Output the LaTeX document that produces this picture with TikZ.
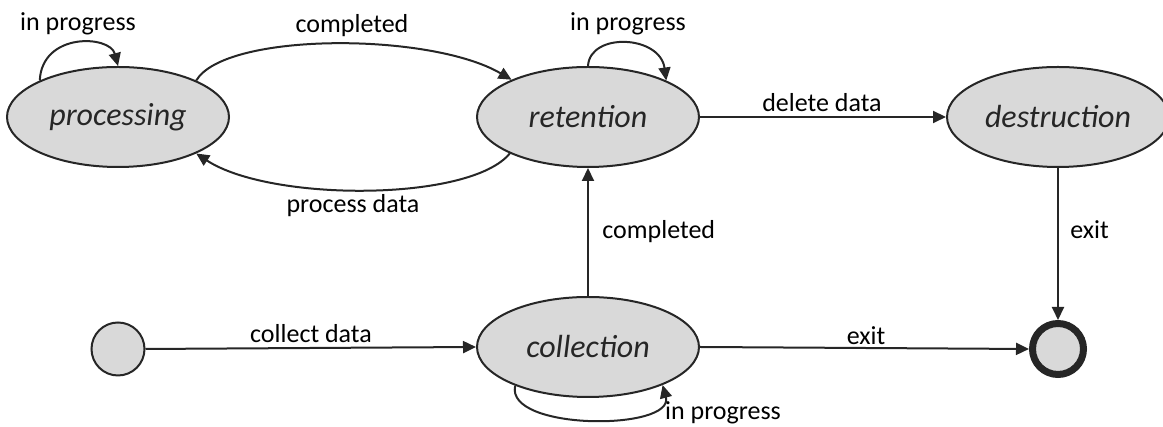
\documentclass[tikz,border=0pt]{standalone}
\usepackage{fontspec}
\setmainfont{Carlito}
\usetikzlibrary{arrows.meta,shapes.geometric}
\definecolor{ink}{HTML}{262626}
\definecolor{statefill}{HTML}{D9D9D9}
\tikzset{
  state/.style={ellipse,draw=ink,fill=statefill,line width=1pt,minimum width=111pt,minimum height=50pt,inner sep=0pt,text=ink,font=\fontsize{16}{19}\selectfont\itshape},
  startstate/.style={circle,draw=ink,fill=statefill,line width=1pt,minimum size=26.5pt,inner sep=0pt},
  endstate/.style={circle,draw=ink,fill=statefill,line width=3.5pt,minimum size=25.5pt,inner sep=0pt},
  conn/.style={draw=ink,line width=1pt,-{Triangle[length=6.5pt,width=6pt]}},
  lbl/.style={font=\fontsize{13}{15}\selectfont,text=black,inner sep=0pt}
}
\begin{document}
\begin{tikzpicture}[x=0.5pt,y=0.5pt]
\useasboundingbox (0,0) rectangle (1163,427);
% states
\node[state] (proc) at (118,310) {processing};
\node[state] (ret) at (588,310) {retention};
\node[state] (dest) at (1058,310) {destruction};
\node[state] (coll) at (588,80) {collection};
\node[startstate] (init) at (118,78) {};
\node[endstate] (final) at (1058,78) {};
% connectors
\draw[conn] (proc.155) .. controls (42,395) and (110,392) .. (proc.north);
\draw[conn] (ret.north) .. controls (590,395) and (660,392) .. (ret.25);
\draw[conn] (coll.208) .. controls (505,-4) and (675,-4) .. (coll.333);
\draw[conn] (proc.25) .. controls (225,395) and (430,395) .. (ret.154);
\draw[conn] (ret.205) .. controls (470,225) and (270,225) .. (proc.335);
\draw[conn] (ret.east) -- (dest.west);
\draw[conn] (coll.north) -- (ret.south);
\draw[conn] (init.east) -- (coll.west);
\draw[conn] (coll.east) -- (final.west);
\draw[conn] (dest.south) -- (final.north);
% labels
\node[lbl,anchor=base] (l1) at (78,396) {in progress};
\node[lbl,anchor=base] (l2) at (352,394) {completed};
\node[lbl,anchor=base] (l3) at (628,396) {in progress};
\node[lbl,anchor=base] (l4) at (822,315) {delete data};
\node[lbl,anchor=base] (l5) at (353,214) {process data};
\node[lbl,anchor=base west] (l6) at (602,188) {completed};
\node[lbl,anchor=base west] (l7) at (1070,188) {exit};
\node[lbl,anchor=base] (l8) at (311,84) {collect data};
\node[lbl,anchor=base] (l9) at (866,82) {exit};
\node[lbl,anchor=base] (l10) at (723,7) {in progress};
\end{tikzpicture}
\end{document}
